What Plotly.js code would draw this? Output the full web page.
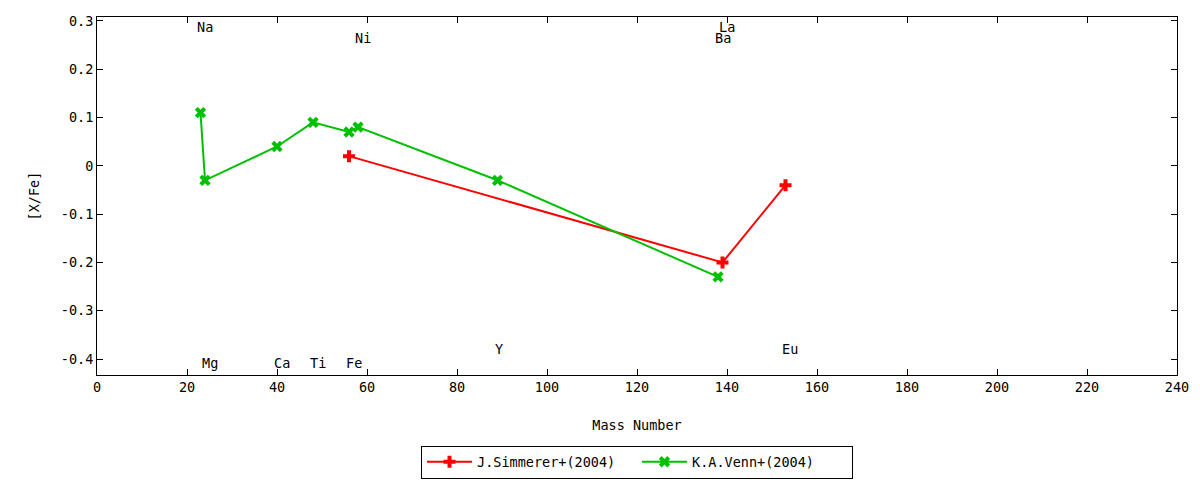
<!DOCTYPE html>
<html>
<head>
<meta charset="utf-8">
<script src="https://cdn.plot.ly/plotly-3.0.1.min.js"></script>
<style>html,body{margin:0;padding:0;background:#fff;}#chart{width:1200px;height:480px;}</style>
</head>
<body>
<div id="chart"></div>
<script>
// Data
const simmererMass = [56, 139, 153];
const simmererXFe = [0.02, -0.20, -0.04];
const vennMass = [23, 24, 40, 48, 56, 58, 89, 138];
const vennXFe = [0.11, -0.03, 0.04, 0.09, 0.07, 0.08, -0.03, -0.23];
const elementNames = ["Na", "Ni", "La", "Ba", "Mg", "Ca", "Ti", "Fe", "Y", "Eu"];
const elementLabelX = [24, 59, 140, 139, 25, 41, 49, 57, 89.3, 154];
const elementLabelY = [0.287, 0.265, 0.287, 0.265, -0.408, -0.408, -0.408, -0.408, -0.379, -0.379];
const xTicks = [0, 20, 40, 60, 80, 100, 120, 140, 160, 180, 200, 220, 240];
const yTicks = [0.3, 0.2, 0.1, 0, -0.1, -0.2, -0.3, -0.4];
const yTickText = ["0.3", "0.2", "0.1", "0", "-0.1", "-0.2", "-0.3", "-0.4"];

const FONT = "DejaVu Sans Mono, monospace";
const FS = 13.5;

const traces = [
  {
    x: simmererMass, y: simmererXFe, name: "J.Simmerer+(2004)",
    mode: "lines+markers", type: "scatter",
    line: {color: "#ff0000", width: 2},
    marker: {symbol: "cross", size: 10, color: "#ff0000"}
  },
  {
    x: vennMass, y: vennXFe, name: "K.A.Venn+(2004)",
    mode: "lines+markers", type: "scatter",
    line: {color: "#00c000", width: 2},
    marker: {symbol: "x", size: 10, color: "#00c000"}
  }
];

const annotations = elementNames.map((t, i) => ({
  x: elementLabelX[i], y: elementLabelY[i], xref: "x", yref: "y",
  text: t, showarrow: false, xanchor: "center", yanchor: "middle",
  font: {family: FONT, size: FS, color: "#000"}
}));

const layout = {
  width: 1200, height: 480,
  margin: {l: 97, r: 23, t: 17, b: 105},
  paper_bgcolor: "#fff", plot_bgcolor: "#fff",
  font: {family: FONT, size: FS, color: "#000"},
  showlegend: true,
  legend: {
    orientation: "h", x: 0.5, xanchor: "center", xref: "paper",
    y: 18 / 480, yanchor: "middle", yref: "container",
    bordercolor: "#000", borderwidth: 1, bgcolor: "#fff",
    itemwidth: 45, entrywidth: 155, tracegroupgap: 0,
    font: {family: FONT, size: FS}
  },
  xaxis: {
    range: [0, 240], tickvals: xTicks, ticktext: xTicks.map(String),
    ticks: "inside", ticklen: 6, tickcolor: "#000", mirror: "ticks",
    showline: true, linecolor: "#000", linewidth: 1, showgrid: false, zeroline: false,
    title: {text: "Mass Number", font: {family: FONT, size: FS}, standoff: 26},
    tickfont: {family: FONT, size: FS}, automargin: false
  },
  yaxis: {
    range: [-0.433, 0.308], tickvals: yTicks, ticktext: yTickText,
    ticks: "inside", ticklen: 6, tickcolor: "#000", mirror: "ticks",
    showline: true, linecolor: "#000", linewidth: 1, showgrid: false, zeroline: false,
    title: {text: "[X/Fe]", font: {family: FONT, size: FS}, standoff: 18},
    tickfont: {family: FONT, size: FS}, automargin: false
  },
  annotations: annotations
};

Plotly.newPlot("chart", traces, layout, {displayModeBar: false, staticPlot: true});
</script>
</body>
</html>
